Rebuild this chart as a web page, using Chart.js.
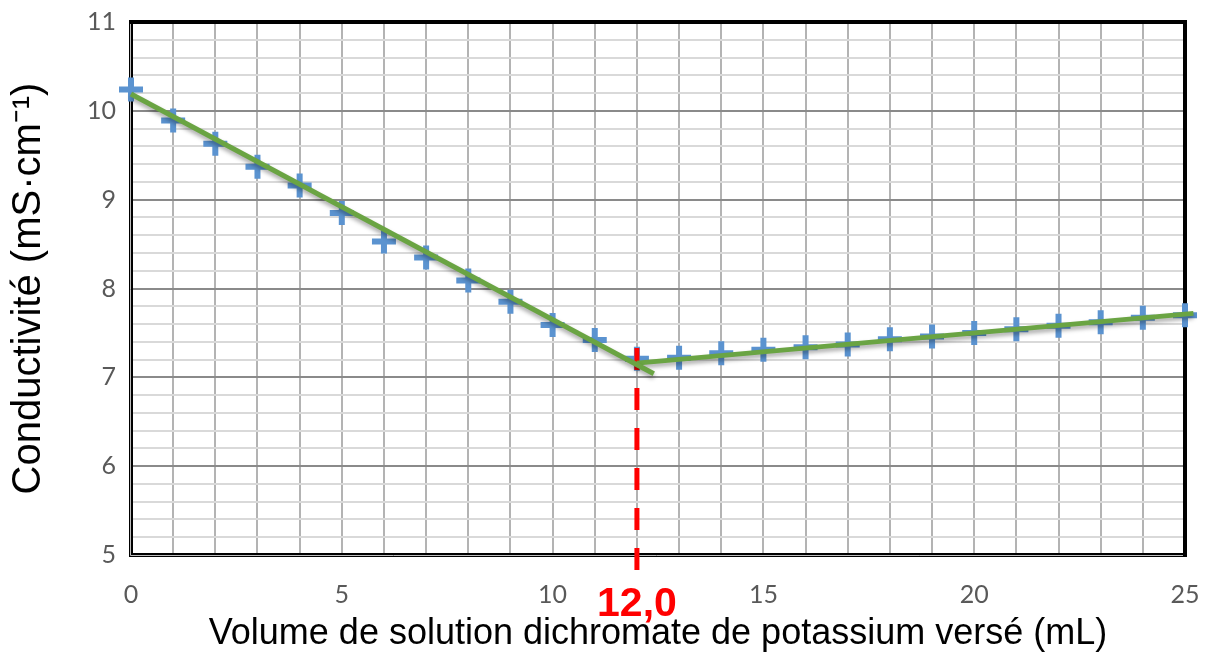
<!DOCTYPE html>
<html>
<head>
<meta charset="utf-8">
<script src="https://cdn.jsdelivr.net/npm/chart.js@4/dist/chart.umd.min.js"></script>
<style>
  html, body { margin: 0; padding: 0; background: #ffffff; }
  #wrap { width: 1206px; height: 652px; }
</style>
</head>
<body>
<div id="wrap"><canvas id="chart" width="1206" height="652"></canvas></div>
<script>
/* ===================== DATA ===================== */

const volumes      = [0, 1, 2, 3, 4, 5, 6, 7, 8, 9, 10, 11, 12, 13, 14, 15, 16, 17, 18, 19, 20, 21, 22, 23, 24, 25];
const conductivity = [10.24, 9.89, 9.63, 9.37, 9.16, 8.85, 8.53, 8.35, 8.09, 7.85, 7.59, 7.42, 7.21,
                      7.22, 7.27, 7.31, 7.34, 7.37, 7.43, 7.46, 7.50, 7.54, 7.58, 7.62, 7.67, 7.70];

// trend lines (before / after equivalence)
const fitBeforeX = [0, 12.4];
const fitBeforeY = [10.19, 7.04];
const fitAfterX  = [12, 25.2];
const fitAfterY  = [7.16, 7.72];

// equivalence marker
const equivX      = 12.0;
const equivY      = [7.33, 4.80];
const equivLabel  = "12,0";

const xTickLabels = [0, 5, 10, 15, 20, 25];
const yTickLabels = [5, 6, 7, 8, 9, 10, 11];

const xTitle = "Volume de solution dichromate de potassium versé (mL)";
const yTitle = "Conductivité (mS·cm⁻¹)";

/* ===================== HELPERS ===================== */

const isInt = v => Math.abs(v - Math.round(v)) < 1e-6;
const pts = (xs, ys) => xs.map((x, i) => ({ x: x, y: ys[i] }));

/* ===================== PLUGIN ===================== */

const decor = {
  id: "decor",
  beforeDatasetsDraw(chart) {
    const { ctx, chartArea: a } = chart;
    ctx.save();
    // thick frame
    ctx.strokeStyle = "#000000";
    ctx.lineWidth = 4;
    ctx.strokeRect(a.left, a.top, a.right - a.left, a.bottom - a.top);
    // double-line look on left and bottom
    ctx.strokeStyle = "#bdbdbd";
    ctx.lineWidth = 1;
    ctx.beginPath();
    ctx.moveTo(a.left - 0.5, a.top + 2);
    ctx.lineTo(a.left - 0.5, a.bottom + 0.5);
    ctx.lineTo(a.right - 2, a.bottom + 0.5);
    ctx.stroke();
    ctx.restore();
  },
  beforeDatasetDraw(chart, args) {
    if (args.meta.type === "line" && args.index < 2) {
      const ctx = chart.ctx;
      ctx.save();
      ctx.shadowColor = "rgba(0,0,0,0.35)";
      ctx.shadowBlur = 4;
      ctx.shadowOffsetY = 3;
    }
  },
  afterDatasetDraw(chart, args) {
    if (args.meta.type === "line" && args.index < 2) chart.ctx.restore();
  },
  afterDraw(chart) {
    const { ctx, scales } = chart;
    const px = scales.x.getPixelForValue(equivX);
    ctx.save();
    ctx.fillStyle = "#ff0000";
    ctx.font = "bold 41px 'Liberation Sans', Arial, sans-serif";
    ctx.textAlign = "center";
    ctx.textBaseline = "alphabetic";
    ctx.fillText(equivLabel, px, 616);
    ctx.restore();
  }
};

/* ===================== CHART ===================== */

new Chart(document.getElementById("chart"), {
  type: "scatter",
  data: {
    datasets: [
      {
        type: "line",
        data: pts(fitBeforeX, fitBeforeY),
        borderColor: "#6aa443",
        borderWidth: 5,
        pointRadius: 0,
        clip: false
      },
      {
        type: "line",
        data: pts(fitAfterX, fitAfterY),
        borderColor: "#6aa443",
        borderWidth: 5,
        pointRadius: 0,
        clip: false
      },
      {
        type: "line",
        data: pts([equivX, equivX], equivY),
        borderColor: "#ff0000",
        borderWidth: 5,
        borderDash: [22, 18],
        pointRadius: 0,
        clip: false
      },
      {
        data: pts(volumes, conductivity),
        pointStyle: "cross",
        pointRadius: 12,
        pointBorderWidth: 6,
        pointBorderColor: "#5b93d0",
        pointBackgroundColor: "#5b93d0",
        clip: false
      }
    ]
  },
  options: {
    responsive: false,
    animation: false,
    events: [],
    layout: { padding: { top: 22, right: 21, left: 0, bottom: 0 } },
    plugins: {
      legend: { display: false },
      tooltip: { enabled: false }
    },
    scales: {
      x: {
        type: "linear",
        min: 0,
        max: 25,
        afterFit: s => { s.height = 97; s.paddingLeft = 0; s.paddingRight = 0; },
        border: { display: false },
        grid: { color: "#b3b3b3", lineWidth: 2, drawTicks: false },
        ticks: {
          stepSize: 1,
          autoSkip: false,
          maxRotation: 0,
          padding: 25,
          color: "#595959",
          font: { family: "Lato", size: 25 },
          callback: v => xTickLabels.includes(v) ? String(v) : ""
        },
        title: {
          display: true,
          text: xTitle,
          color: "#000000",
          font: { family: "'Liberation Sans', Arial", size: 36, lineHeight: 1 },
          padding: { top: 0, bottom: 0 }
        }
      },
      y: {
        type: "linear",
        min: 5,
        max: 11,
        afterFit: s => { s.width = 131; s.paddingTop = 0; s.paddingBottom = 0; },
        border: { display: false },
        grid: {
          drawTicks: false,
          lineWidth: 2,
          color: c => isInt(c.tick.value) ? "#8a8a8a" : "#d9d9d9"
        },
        ticks: {
          stepSize: 0.2,
          autoSkip: false,
          padding: 15,
          color: "#595959",
          font: { family: "Lato", size: 25 },
          callback: v => yTickLabels.some(t => Math.abs(t - v) < 1e-6) ? String(Math.round(v)) : ""
        },
        title: {
          display: true,
          text: yTitle,
          color: "#000000",
          font: { family: "'Liberation Sans', Arial", size: 40, lineHeight: 1 },
          padding: { top: 9, bottom: 0 }
        }
      }
    }
  },
  plugins: [decor]
});
</script>
</body>
</html>
